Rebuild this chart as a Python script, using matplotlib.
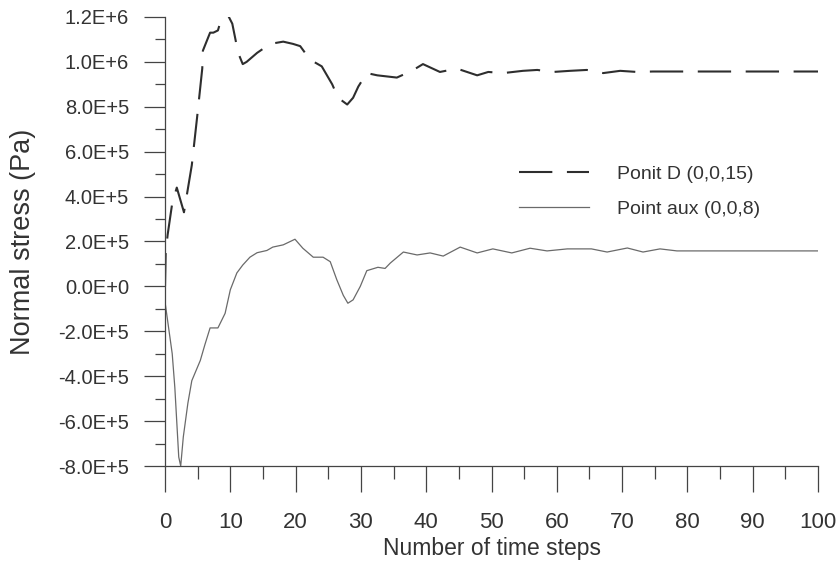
import matplotlib
matplotlib.use("Agg")
import matplotlib.pyplot as plt
from matplotlib.ticker import MultipleLocator, FixedLocator
import numpy as np

# --- data (stress in units of 1e5 Pa) ---
steps_d = [0, 0.1, 0.4, 1.1, 1.8, 2.9, 3.3, 4.1, 4.9, 5.7, 5.8, 6.9, 7.4, 8.1, 8.9,
           9.6, 10.3, 11.2, 11.9, 12.5, 14.1, 16.1, 18.1, 19.6, 20.7, 22.2, 24.0,
           25.6, 26.5, 27.9, 28.8, 29.6, 30.9, 32.5, 35.5, 37.8, 39.5, 42.1, 44.7,
           47.8, 49.5, 51.8, 54.8, 57.0, 59.4, 62.0, 64.6, 67.1, 69.7, 72.3, 74.7,
           80, 85, 90, 95, 100]
stress_d = [0, 1.5, 2.3, 3.7, 4.4, 3.3, 4.0, 5.4, 7.5, 9.7, 10.5, 11.3, 11.3, 11.4,
            12.2, 12.1, 11.7, 10.4, 9.9, 10.0, 10.4, 10.8, 10.9, 10.8, 10.7, 10.1,
            9.8, 9.0, 8.4, 8.1, 8.4, 8.9, 9.5, 9.4, 9.3, 9.6, 9.9, 9.55, 9.7, 9.4,
            9.55, 9.5, 9.6, 9.64, 9.55, 9.6, 9.64, 9.5, 9.6, 9.55, 9.57, 9.57, 9.57,
            9.57, 9.57, 9.57]

steps_aux = [0, 0.05, 1.1, 1.5, 2.1, 2.4, 2.8, 3.5, 4.1, 5.4, 6.1, 6.9, 8.1, 9.2,
             10.0, 11.0, 11.9, 13.0, 14.1, 15.6, 16.5, 18.1, 19.9, 21.1, 22.7, 24.2,
             25.3, 26.3, 27.3, 28.0, 28.8, 29.9, 30.9, 32.6, 33.7, 34.5, 36.5, 38.6,
             40.6, 42.6, 45.2, 47.8, 50.2, 53.1, 55.9, 58.5, 61.6, 65.3, 67.7, 70.8,
             73.2, 75.8, 78.4, 83, 88, 93, 100]
stress_aux = [0, -0.8, -3.0, -4.5, -7.6, -8.0, -6.7, -5.2, -4.2, -3.3, -2.6, -1.85,
              -1.85, -1.2, -0.15, 0.6, 0.95, 1.3, 1.5, 1.6, 1.75, 1.85, 2.1, 1.7, 1.3,
              1.3, 1.1, 0.3, -0.4, -0.75, -0.6, 0.0, 0.7, 0.85, 0.8, 1.04, 1.53, 1.4,
              1.49, 1.35, 1.75, 1.49, 1.67, 1.49, 1.7, 1.58, 1.67, 1.67, 1.53, 1.71,
              1.53, 1.67, 1.58, 1.58, 1.58, 1.58, 1.58]

y_ticks = [-8e5, -6e5, -4e5, -2e5, 0, 2e5, 4e5, 6e5, 8e5, 1e6, 1.2e6]
y_tick_labels = ["-8.0E+5", "-6.0E+5", "-4.0E+5", "-2.0E+5", "0.0E+0", "2.0E+5",
                 "4.0E+5", "6.0E+5", "8.0E+5", "1.0E+6", "1.2E+6"]
x_ticks = [0, 10, 20, 30, 40, 50, 60, 70, 80, 90, 100]

label_d = "Ponit D (0,0,15)"
label_aux = "Point aux (0,0,8)"

TICK_FONT = ["Liberation Sans Narrow", "Liberation Sans"]
TEXT_FONT = ["Liberation Sans", "DejaVu Sans"]
INK = "#333333"

fig = plt.figure(figsize=(8.39, 5.65), dpi=100)
ax = fig.add_axes([0.1967, 0.1752, 0.7783, 0.7948])

ax.plot(steps_d, np.array(stress_d) * 1e5, color="#2e2e2e", lw=1.5,
        dashes=(16, 7), label=label_d)
ax.plot(steps_aux, np.array(stress_aux) * 1e5, color="#6a6a6a", lw=0.9,
        label=label_aux)

ax.set_xlim(0, 100)
ax.set_ylim(-8e5, 1.2e6)

ax.xaxis.set_major_locator(FixedLocator(x_ticks))
ax.xaxis.set_minor_locator(MultipleLocator(5))
ax.set_yticks(y_ticks)
ax.set_yticklabels(y_tick_labels)
ax.yaxis.set_minor_locator(MultipleLocator(1e5))

for s in ["top", "right"]:
    ax.spines[s].set_visible(False)
for s in ["left", "bottom"]:
    ax.spines[s].set_color("#444444")
    ax.spines[s].set_linewidth(0.9)

ax.tick_params(axis="x", which="major", direction="out", length=19, width=0.9,
               color="#444444", pad=14, labelsize=16, labelcolor=INK)
ax.tick_params(axis="x", which="minor", direction="out", length=9, width=0.9,
               color="#444444")
ax.tick_params(axis="y", which="major", direction="out", length=15, width=0.9,
               color="#444444", pad=11, labelsize=14.5, labelcolor=INK)
ax.tick_params(axis="y", which="minor", direction="out", length=7, width=0.9,
               color="#444444")
for lbl in ax.get_xticklabels() + ax.get_yticklabels():
    lbl.set_family(TICK_FONT)

ax.set_xlabel("Number of time steps", fontsize=16.5, family=TEXT_FONT, color=INK,
              labelpad=3)
ax.set_ylabel("Normal stress (Pa)", fontsize=19.5, family=TEXT_FONT, color=INK)
ax.yaxis.set_label_coords(-0.198, 0.5)

leg = ax.legend(loc="center left", bbox_to_anchor=(0.516, 0.611), frameon=False,
                handlelength=3.6, handletextpad=1.4, labelspacing=0.9,
                prop={"family": TEXT_FONT, "size": 14})
for t in leg.get_texts():
    t.set_color(INK)

fig.savefig("out.png", dpi=100)
